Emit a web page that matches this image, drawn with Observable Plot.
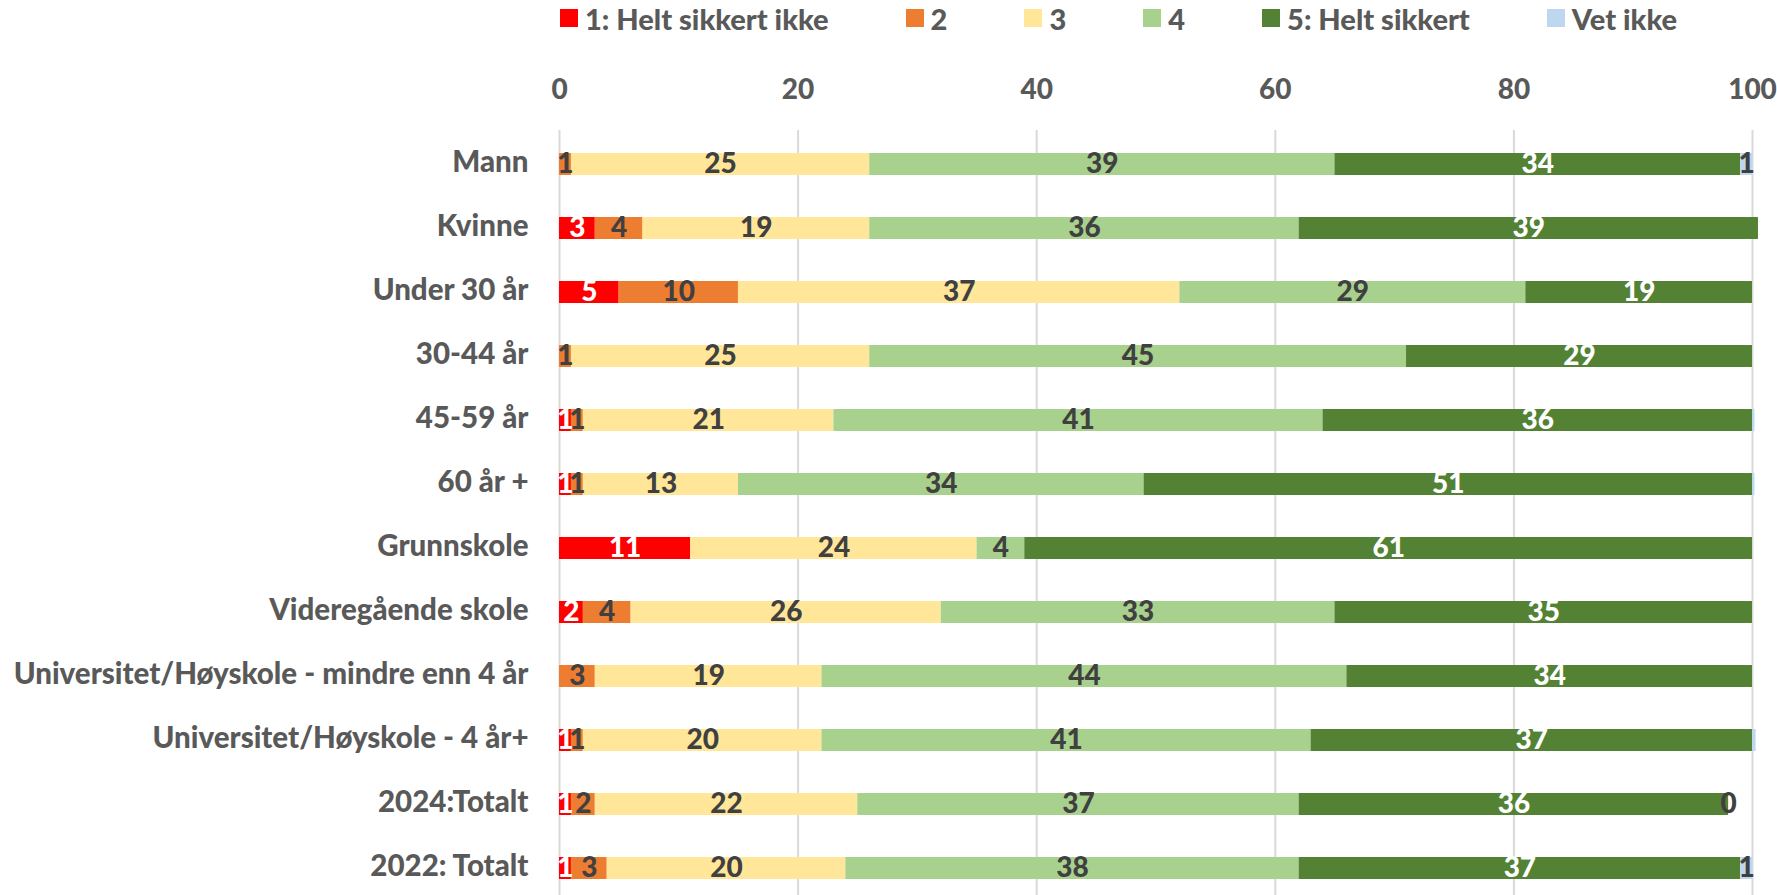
<!DOCTYPE html>
<html>
<head>
<meta charset="utf-8">
<script src="https://cdn.jsdelivr.net/npm/d3@7"></script>
<script src="https://cdn.jsdelivr.net/npm/@observablehq/plot@0.6"></script>
<style>
  html, body { margin: 0; padding: 0; background: #fff; overflow: hidden; width: 1777px; height: 895px; }
  #legend { height: 36px; padding-bottom: 4px; display: flex; align-items: center; padding-left: 560px; gap: 77px;
            font-family: Lato, sans-serif; font-weight: 900; font-size: 29px; color: #595959; }
  #legend .item { display: flex; align-items: center; white-space: nowrap; }
  #legend .sw { width: 18px; height: 18px; margin-right: 7px; }
</style>
</head>
<body>
<div id="legend"></div>
<div id="chart"></div>
<script>
const rows = ["Mann", "Kvinne", "Under 30 år", "30-44 år", "45-59 år", "60 år +", "Grunnskole",
  "Videregående skole", "Universitet/Høyskole - mindre enn 4 år", "Universitet/Høyskole - 4 år+",
  "2024:Totalt", "2022: Totalt"];
const series = ["1: Helt sikkert ikke", "2", "3", "4", "5: Helt sikkert", "Vet ikke"];
const colors = ["#FF0000", "#ED7D31", "#FFE699", "#A9D18E", "#548235", "#BDD7EE"];
const labelColors = ["#FFFFFF", "#404040", "#404040", "#404040", "#FFFFFF", "#404040"];

const s1 = [null, 3, 5, null, 1, 1, 11, 2, null, 1, 1, 1];
const s2 = [1, 4, 10, 1, 1, 1, null, 4, 3, 1, 2, 3];
const s3 = [25, 19, 37, 25, 21, 13, 24, 26, 19, 20, 22, 20];
const s4 = [39, 36, 29, 45, 41, 34, 4, 33, 44, 41, 37, 38];
const s5 = [34, 38.5, 19, 29, 36, 51, 61, 35, 34, 37, 36, 37];
const s6 = [1, null, null, null, 0.2, 0.2, null, null, null, 0.3, 0, 1];
const xTicks = [0, 20, 40, 60, 80, 100];

const seriesValues = [s1, s2, s3, s4, s5, s6];
const data = [];
rows.forEach((row, i) => {
  series.forEach((cat, j) => {
    const v = seriesValues[j][i];
    if (v !== null && v !== undefined) data.push({row, cat, value: v, ci: j});
  });
});

// legend
const legend = document.getElementById("legend");
series.forEach((s, j) => {
  const it = document.createElement("div");
  it.className = "item";
  const sw = document.createElement("span");
  sw.className = "sw";
  sw.style.background = colors[j];
  const tx = document.createElement("span");
  tx.textContent = s;
  it.appendChild(sw); it.appendChild(tx);
  legend.appendChild(it);
});

const labelText = d => (d.value >= 0.5 || d.value === 0) ? String(Math.round(d.value)) : null;

const chart = Plot.plot({
  width: 1777,
  height: 862,
  marginLeft: 559,
  marginRight: 25,
  marginTop: 90,
  marginBottom: 0,
  style: {fontFamily: "Lato, sans-serif", fontWeight: "900", fontSize: "28px", color: "#595959", background: "white"},
  x: {domain: [0, 100], ticks: xTicks, label: null},
  y: {domain: rows, paddingInner: 0.65, paddingOuter: 0.325, label: null},
  color: {domain: series, range: colors},
  marks: [
    Plot.gridX(xTicks, {stroke: "#D9D9D9", strokeWidth: 2, strokeOpacity: 1}),
    Plot.axisX({anchor: "top", ticks: xTicks, tickSize: 0, tickPadding: 32, fill: "#595959", fontSize: 28, label: null}),
    Plot.axisY({anchor: "left", tickSize: 0, tickPadding: 31, fill: "#595959", fontSize: 29.5, label: null, dy: -2}),
    Plot.barX(data, Plot.stackX({x: "value", y: "row", fill: "cat", order: null})),
    Plot.text(data, Plot.stackX({x: "value", y: "row", z: "cat", order: null,
      text: d => labelColors[d.ci] === "#FFFFFF" ? labelText(d) : null,
      fill: "#FFFFFF", fontSize: 28, fontWeight: "900", dy: 0})),
    Plot.text(data, Plot.stackX({x: "value", y: "row", z: "cat", order: null,
      text: d => labelColors[d.ci] !== "#FFFFFF" ? labelText(d) : null,
      fill: "#404040", fontSize: 28, fontWeight: "900", dy: 0}))
  ]
});
document.getElementById("chart").appendChild(chart);
</script>
</body>
</html>
